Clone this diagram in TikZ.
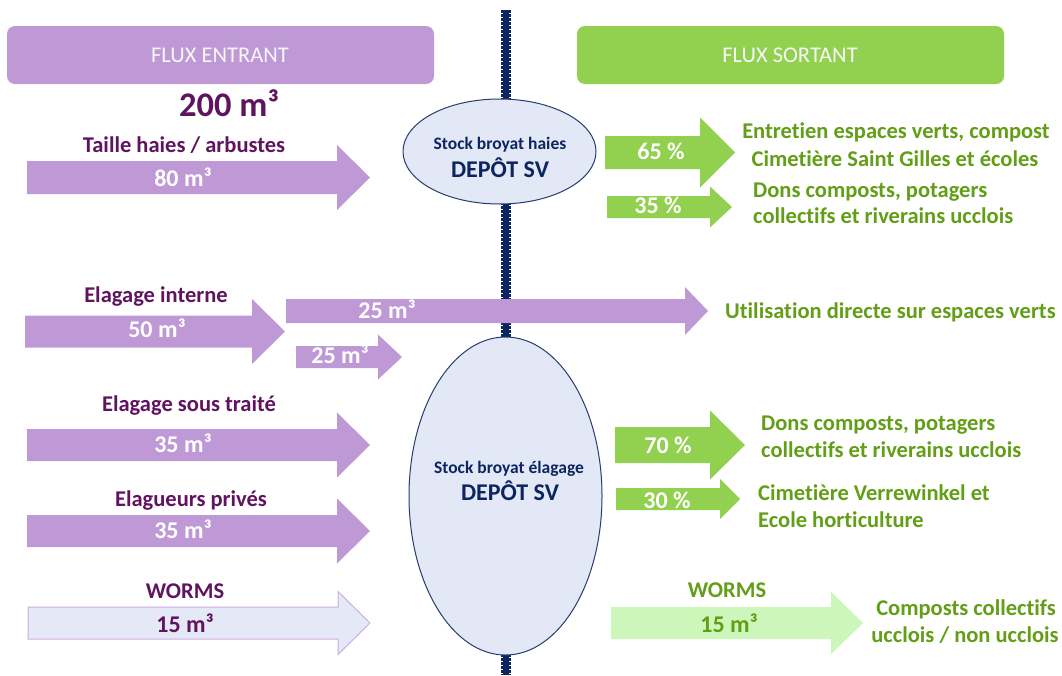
\documentclass[tikz,border=0pt]{standalone}
\usepackage{fontspec}
\setmainfont{Carlito}[Ligatures={NoCommon}]
\definecolor{purp}{RGB}{191,153,214}
\definecolor{dpurp}{RGB}{96,20,96}
\definecolor{grn}{RGB}{146,208,80}
\definecolor{dgrn}{RGB}{98,158,22}
\definecolor{lgrn}{RGB}{204,246,186}
\definecolor{ellfill}{RGB}{226,232,245}
\definecolor{navy}{RGB}{12,36,96}
\definecolor{ellline}{RGB}{40,60,110}
\definecolor{wfill}{RGB}{228,232,247}
\definecolor{wline}{RGB}{205,175,228}
\newcommand{\farrow}[7]{%
  \filldraw[#1] (#2,#5-#6) -- (#3,#5-#6) -- (#3,#5-#7) -- (#4,#5) -- (#3,#5+#7) -- (#3,#5+#6) -- (#2,#5+#6) -- cycle;}
\newcommand{\fs}[1]{\fontsize{#1}{#1}\selectfont}
\begin{document}
\begin{tikzpicture}[x=1pt,y=-1pt,
  txt/.style={inner sep=0pt,anchor=base},
  ltxt/.style={inner sep=0pt,anchor=base west},
  ptitle/.style={txt,text=dpurp,font=\fs{22.5}\bfseries},
  wlab/.style={txt,text=white,font=\fs{24}\bfseries},
  gtxt/.style={txt,text=dgrn,font=\fs{22.5}\bfseries},
  gltxt/.style={ltxt,text=dgrn,font=\fs{22.5}\bfseries},
  parr/.style={fill=purp,draw=none},
  garr/.style={fill=grn,draw=none}
]
\useasboundingbox[fill=white] (0,0) rectangle (1062,675);
% headers
\fill[purp,rounded corners=8pt] (7,26) rectangle (434,84);
\fill[grn,rounded corners=8pt] (577,26) rectangle (1004,84);
\node[txt,text=white!97!black,font=\fs{22.5}] (hin) at (220,62.5) {FLUX ENTRANT};
\node[txt,text=white!97!black,font=\fs{22.5}] (hout) at (790,62.5) {FLUX SORTANT};
% central line
\coordinate (ltop) at (506,10);
\coordinate (lbot) at (506,675);
\draw[navy,line width=6.5pt] (ltop) -- (lbot);
\draw[navy,line width=10pt,dash pattern=on 2.5pt off 1.5pt] (ltop) -- (lbot);
% ellipses
\filldraw[draw=ellline,line width=1pt,fill=ellfill] (499.5,151.5) ellipse [x radius=96.5,y radius=52.5];
\filldraw[draw=ellline,line width=1pt,fill=ellfill] (505.5,496) ellipse [x radius=96.5,y radius=159];
\node[txt,text=navy,font=\fs{17.5}\bfseries] (e1a) at (500,149) {Stock broyat haies};
\node[txt,text=navy,font=\fs{24}\bfseries] (e1b) at (500,177) {DEPÔT SV};
\node[txt,text=navy,font=\fs{17.5}\bfseries] (e2a) at (509,473) {Stock broyat élagage};
\node[txt,text=navy,font=\fs{24}\bfseries] (e2b) at (510,500) {DEPÔT SV};
% total
\node[txt,text=dpurp,font=\fs{34.5}\bfseries] (tot) at (229,116.5) {200 m³};
% left arrows
\farrow{parr}{27}{337}{370}{177.5}{16.5}{32.5}
\node[ptitle] (t1) at (184,152) {Taille haies / arbustes};
\node[wlab] (l1) at (183,186) {80 m³};
\farrow{parr}{25}{252}{285}{331.5}{16}{32.5}
\node[ptitle] (t2) at (156,302.5) {Elagage interne};
\node[wlab] (l2) at (157,337) {50 m³};
\farrow{parr}{286}{685}{708}{311}{12}{24}
\node[wlab] (l2a) at (387,318) {25 m³};
\farrow{parr}{296}{378}{402}{357}{11}{22.5}
\node[wlab] (l2b) at (340,363) {25 m³};
\farrow{parr}{27}{337}{370}{445}{16}{32.5}
\node[ptitle] (t3) at (189,411) {Elagage sous traité};
\node[wlab] (l3) at (183,452) {35 m³};
\farrow{parr}{27}{337}{370}{531}{16}{32.5}
\node[ptitle] (t4) at (191,506) {Elagueurs privés};
\node[wlab] (l4) at (183,538) {35 m³};
\farrow{fill=wfill,draw=wline,line width=1pt}{28}{338}{370}{623}{16}{31.5}
\node[ptitle] (t5) at (185,598) {WORMS};
\node[txt,text=dpurp,font=\fs{24}\bfseries] (l5) at (185,632) {15 m³};
% right arrows
\farrow{garr}{605}{700}{735}{152.5}{16.5}{35}
\node[wlab] (r1) at (661,159) {65 \%};
\node[gtxt] (r1a) at (896,138) {Entretien espaces verts, compost};
\node[gtxt] (r1b) at (895,166) {Cimetière Saint Gilles et écoles};
\farrow{garr}{607}{710}{732}{207}{11}{20.5}
\node[wlab] (r2) at (658,213) {35 \%};
\node[gltxt] (r2a) at (753,197) {Dons composts, potagers};
\node[gltxt] (r2b) at (753,223) {collectifs et riverains ucclois};
\node[gltxt] (r0) at (725,318) {Utilisation directe sur espaces verts};
\farrow{garr}{615}{710}{745}{445}{18}{34.5}
\node[wlab] (r3) at (668,453) {70 \%};
\node[gltxt] (r3a) at (761,430) {Dons composts, potagers};
\node[gltxt] (r3b) at (761,457) {collectifs et riverains ucclois};
\farrow{garr}{616}{720}{740}{499}{11}{20}
\node[wlab] (r4) at (667,508) {30 \%};
\node[gltxt] (r4a) at (758,500) {Cimetière Verrewinkel et};
\node[gltxt] (r4b) at (758,527) {Ecole horticulture};
\farrow{fill=lgrn,draw=none}{611}{831}{863}{623}{16}{31}
\node[gtxt] (r5) at (727,597) {WORMS};
\node[txt,text=dgrn,font=\fs{24}\bfseries] (r5l) at (729,632) {15 m³};
\node[gtxt] (r5a) at (966,615) {Composts collectifs};
\node[gtxt] (r5b) at (965,642) {ucclois / non ucclois};
\end{tikzpicture}
\end{document}
